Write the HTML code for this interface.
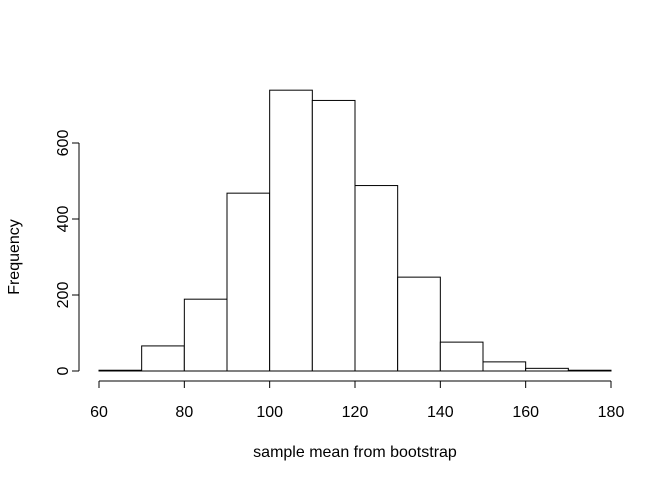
<!DOCTYPE html>
<html><head><meta charset="utf-8"><style>
html,body{margin:0;padding:0;background:#fff;}
svg{display:block;font-family:"Liberation Sans",sans-serif;}
</style></head><body>
<svg id="chart" width="672" height="480">
<g id="bars"></g>
<g id="xaxis"></g>
<g id="yaxis"></g>
<text x="355" y="457" text-anchor="middle" font-size="16">sample mean from bootstrap</text>
<text transform="translate(19,257) rotate(-90)" text-anchor="middle" font-size="16">Frequency</text>
</svg>
<script>
const binStarts = [60,70,80,90,100,110,120,130,140,150,160,170];
const binWidth = 10;
const counts = [2,66,189,468,739,712,488,247,76,24,7,2];
const xTicks = [60,80,100,120,140,160,180];
const yTicks = [0,200,400,600];

const NS = "http://www.w3.org/2000/svg";
const xs = v => 99 + (v - 60) * (512 / 120);
const ys = v => 371 - v * (228 / 600);
function mk(tag, attrs, parent){const e=document.createElementNS(NS,tag);for(const k in attrs)e.setAttribute(k,attrs[k]);parent.appendChild(e);return e;}

const bars = document.getElementById('bars');
binStarts.forEach((b,i)=>{
  const x0=xs(b), x1=xs(b+binWidth), y=ys(counts[i]);
  const r=mk('rect',{x:x0,y:y,width:x1-x0,height:ys(0)-y,fill:'#fff',stroke:'#000','stroke-width':1},bars);
  
  
});

const xa=document.getElementById('xaxis');
mk('line',{x1:xs(xTicks[0]),x2:xs(xTicks[xTicks.length-1]),y1:381,y2:381,stroke:'#000'},xa);
xTicks.forEach(t=>{
  mk('line',{x1:xs(t),x2:xs(t),y1:381,y2:388,stroke:'#000'},xa);
  const tx=mk('text',{x:xs(t),y:417,'text-anchor':'middle','font-size':16},xa);
  tx.textContent=t;
  
  
});

const ya=document.getElementById('yaxis');
mk('line',{x1:79,x2:79,y1:ys(yTicks[0]),y2:ys(yTicks[yTicks.length-1]),stroke:'#000'},ya);
yTicks.forEach(t=>{
  mk('line',{x1:72,x2:79,y1:ys(t),y2:ys(t),stroke:'#000'},ya);
  const tx=mk('text',{transform:`translate(68,${ys(t)}) rotate(-90)`,'text-anchor':'middle','font-size':16},ya);
  tx.textContent=t;
  
  
});
</script>
</body></html>
